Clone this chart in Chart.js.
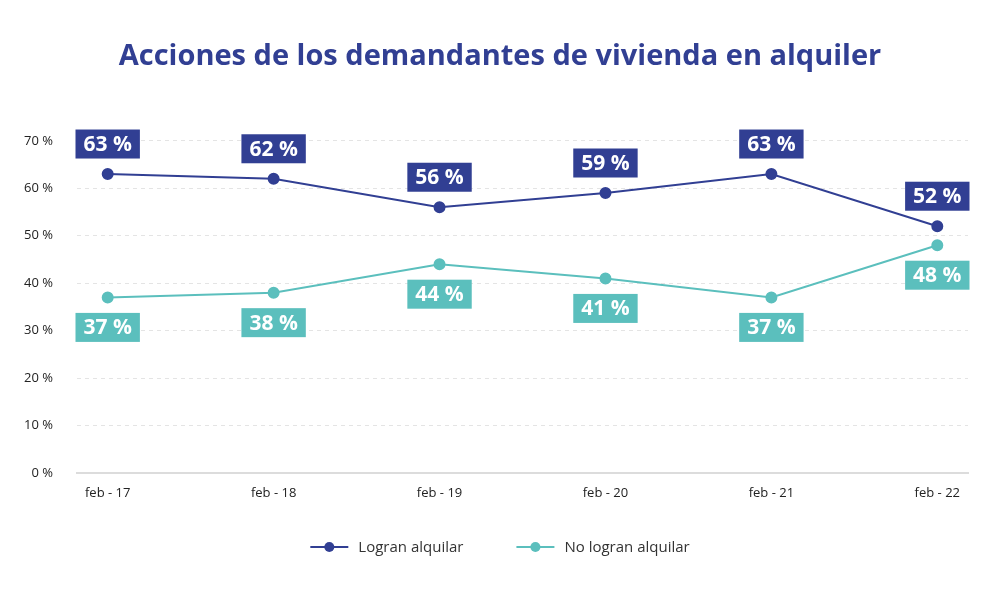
<!DOCTYPE html>
<html>
<head>
<meta charset="utf-8">
<script src="https://cdn.jsdelivr.net/npm/chart.js@4"></script>
<style>
  html, body { margin: 0; padding: 0; background: #fff; }
  #wrap { width: 1000px; height: 590px; }
</style>
</head>
<body>
<div id="wrap"><canvas id="chart" width="1000" height="590"></canvas></div>
<script>
const labels = ['feb - 17', 'feb - 18', 'feb - 19', 'feb - 20', 'feb - 21', 'feb - 22'];
const logran = [63, 62, 56, 59, 63, 52];
const noLogran = [37, 38, 44, 41, 37, 48];
const yTicks = [0, 10, 20, 30, 40, 50, 60, 70];

const BLUE = '#313f93';
const TEAL = '#5bbfbd';
const FONT = '"Open Sans", "Noto Sans", sans-serif';

// boxed value labels, above for first series, below for second
const boxLabels = {
  id: 'boxLabels',
  afterDatasetsDraw(chart) {
    const ctx = chart.ctx;
    ctx.save();
    ctx.font = 'bold 21px ' + FONT;
    ctx.textAlign = 'center';
    ctx.textBaseline = 'middle';
    chart.data.datasets.forEach((ds, di) => {
      const meta = chart.getDatasetMeta(di);
      meta.data.forEach((pt, i) => {
        const txt = ds.data[i].y + ' %';
        const w = ctx.measureText(txt).width + 16;
        const h = 29;
        const cy = di === 0 ? pt.y - 30 : pt.y + 30;
        ctx.fillStyle = ds.borderColor;
        ctx.fillRect(pt.x - w / 2, cy - h / 2, w, h);
        ctx.fillStyle = '#fff';
        ctx.fillText(txt, pt.x, cy + 1);
      });
    });
    ctx.restore();
  }
};

// legend: line with dot, then the series name, centred under the chart
const lineLegend = {
  id: 'lineLegend',
  afterDraw(chart) {
    const ctx = chart.ctx;
    const y = 547, mark = 38, gap = 10, itemGap = 53;
    ctx.save();
    ctx.font = '15px ' + FONT;
    ctx.textBaseline = 'middle';
    ctx.textAlign = 'left';
    const items = chart.data.datasets.map(ds => ({
      text: ds.label, color: ds.borderColor, w: ctx.measureText(ds.label).width
    }));
    const total = items.reduce((s, it) => s + mark + gap + it.w, 0) + itemGap * (items.length - 1);
    let x = chart.width / 2 - total / 2;
    items.forEach(it => {
      ctx.strokeStyle = it.color;
      ctx.lineWidth = 2;
      ctx.beginPath();
      ctx.moveTo(x, y); ctx.lineTo(x + mark, y);
      ctx.stroke();
      ctx.fillStyle = it.color;
      ctx.beginPath();
      ctx.arc(x + mark / 2, y, 5, 0, Math.PI * 2);
      ctx.fill();
      ctx.fillStyle = '#333';
      ctx.fillText(it.text, x + mark + gap, y + 1);
      x += mark + gap + it.w + itemGap;
    });
    ctx.restore();
  }
};

new Chart(document.getElementById('chart'), {
  type: 'line',
  data: {
    datasets: [
      {
        label: 'Logran alquilar',
        data: logran.map((v, i) => ({ x: i, y: v })),
        borderColor: BLUE,
        backgroundColor: BLUE,
        borderWidth: 2,
        pointRadius: 5,
        pointHoverRadius: 5
      },
      {
        label: 'No logran alquilar',
        data: noLogran.map((v, i) => ({ x: i, y: v })),
        borderColor: TEAL,
        backgroundColor: TEAL,
        borderWidth: 2,
        pointRadius: 5,
        pointHoverRadius: 5
      }
    ]
  },
  options: {
    responsive: false,
    animation: false,
    layout: { padding: 0 },
    plugins: {
      title: {
        display: true,
        text: 'Acciones de los demandantes de vivienda en alquiler',
        color: BLUE,
        font: { family: FONT, size: 29, weight: 'bold' },
        padding: { top: 39, bottom: 67 }
      },
      legend: { display: false },
      tooltip: { enabled: false }
    },
    scales: {
      x: {
        type: 'linear',
        min: -0.185,
        max: 5.185,
        afterFit(scale) { scale.height = 117; },
        grid: { display: false },
        border: { display: true, color: '#dcdcdc', width: 2 },
        ticks: {
          stepSize: 1,
          includeBounds: false,
          padding: 4,
          color: '#222',
          font: { family: FONT, size: 13 },
          callback: v => (Number.isInteger(v) ? labels[v] : '')
        }
      },
      y: {
        min: yTicks[0],
        max: yTicks[yTicks.length - 1],
        afterFit(scale) { scale.width = 77; },
        afterBuildTicks(scale) { scale.ticks = yTicks.map(v => ({ value: v })); },
        border: { display: false, dash: [4, 4] },
        grid: { color: '#e4e4e4', drawTicks: false },
        ticks: {
          padding: 24,
          color: '#222',
          font: { family: FONT, size: 13 },
          callback: v => v + ' %'
        }
      },
      // empty right-hand axis, only to leave the margin on the right
      yRight: {
        position: 'right',
        afterFit(scale) { scale.width = 32; },
        grid: { display: false, drawTicks: false },
        border: { display: false },
        ticks: { display: false }
      }
    }
  },
  plugins: [boxLabels, lineLegend]
});
</script>
</body>
</html>
